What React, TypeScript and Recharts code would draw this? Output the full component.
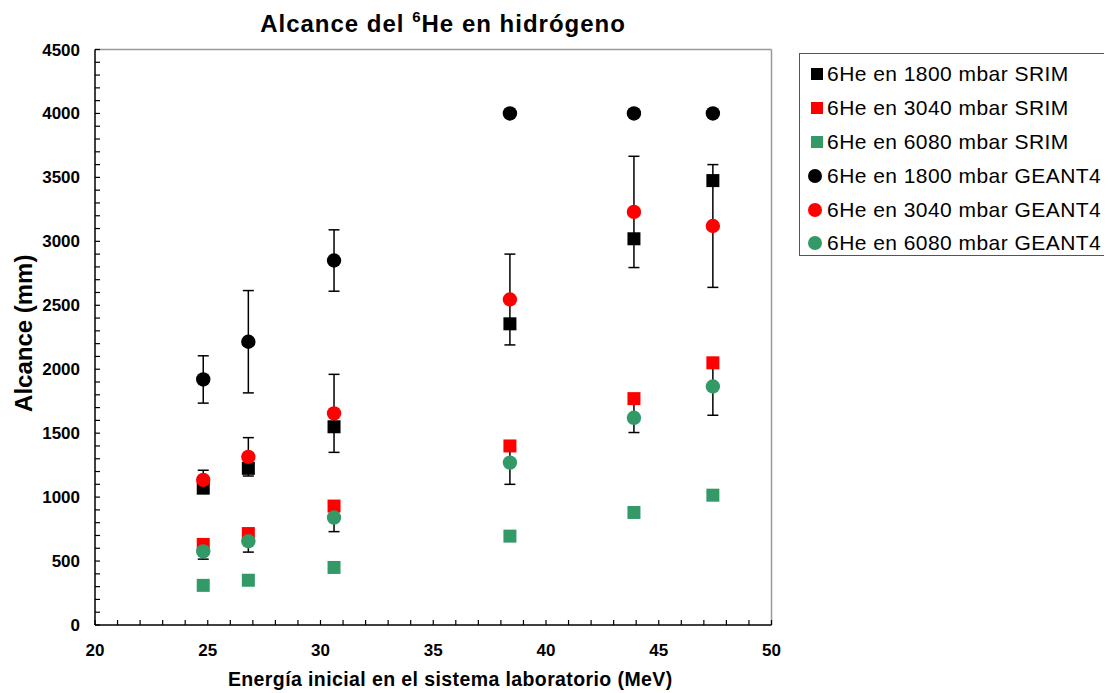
import React from "react";
import {
  ScatterChart,
  Scatter,
  XAxis,
  YAxis,
  ErrorBar,
  ReferenceLine,
  Legend,
  Label,
} from "recharts";

// Energía inicial (MeV) de cada medida
const energies = [24.8, 26.8, 30.6, 38.4, 43.9, 47.4];

// Alcance (mm) calculado con SRIM
const srim1800 = [1070, 1225, 1550, 2355, 3020, 3475];
const srim3040 = [630, 715, 930, 1400, 1770, 2050];
const srim6080 = [310, 350, 450, 695, 880, 1015];

// Alcance (mm) simulado con GEANT4 y su incertidumbre
const geant1800 = [1920, 2215, 2850, 4000, 4000, 4000];
const geant3040 = [1135, 1315, 1655, 2545, 3230, 3120];
const geant6080 = [575, 655, 840, 1270, 1620, 1865];
const geant1800Err = [185, 400, 240, null, null, null];
const geant3040Err = [75, 150, 305, 355, 435, 480];
const geant6080Err = [60, 85, 110, 170, 115, 225];

const xMajorTicks = [20, 25, 30, 35, 40, 45, 50];
const yMajorTicks = [0, 500, 1000, 1500, 2000, 2500, 3000, 3500, 4000, 4500];

const FONT = '"Liberation Sans", Arial, sans-serif';
const BLACK = "#000000";
const RED = "#ff0000";
const GREEN = "#339966";

// minor ticks every 1 MeV / 100 mm, labels only on the majors
const xTicks = Array.from({ length: 31 }, (_, i) => 20 + i);
const yTicks = Array.from({ length: 46 }, (_, i) => i * 100);

type Pt = { x: number; y: number; err?: number | null };

const toPoints = (ys: number[], errs?: (number | null)[]): Pt[] =>
  energies.map((x, i) => ({ x, y: ys[i], err: errs ? errs[i] : undefined }));

const seriesList = [
  { name: "6He en 1800 mbar SRIM", color: BLACK, kind: "square", data: toPoints(srim1800) },
  { name: "6He en 3040 mbar SRIM", color: RED, kind: "square", data: toPoints(srim3040) },
  { name: "6He en 6080 mbar SRIM", color: GREEN, kind: "square", data: toPoints(srim6080) },
  { name: "6He en 1800 mbar GEANT4", color: BLACK, kind: "circle", data: toPoints(geant1800, geant1800Err) },
  { name: "6He en 3040 mbar GEANT4", color: RED, kind: "circle", data: toPoints(geant3040, geant3040Err) },
  { name: "6He en 6080 mbar GEANT4", color: GREEN, kind: "circle", data: toPoints(geant6080, geant6080Err) },
];

// points that carry an uncertainty; their bars go underneath every marker
const errorSets = seriesList
  .filter((s) => s.kind === "circle")
  .map((s) => ({ name: s.name, data: s.data.filter((p) => p.err != null) }));

const makeShape = (kind: string, color: string) => (props: any) => {
  const { cx, cy } = props;
  if (kind === "square") {
    return <rect x={cx - 6.5} y={cy - 6.5} width={13} height={13} fill={color} />;
  }
  return <circle cx={cx} cy={cy} r={7.2} fill={color} />;
};

const emptyShape = () => <g />;

const LegendBox = () => (
  <div
    style={{
      border: "1px solid #555",
      background: "#fff",
      width: 309,
      height: 203,
      boxSizing: "border-box",
      padding: "3px 0 0 0",
      fontFamily: FONT,
      fontSize: 21,
      letterSpacing: 0.45,
      color: "#000",
    }}
  >
    {seriesList.map((s) => (
      <div key={s.name} style={{ display: "flex", alignItems: "center", height: 33.9 }}>
        <div style={{ width: 24, display: "flex", justifyContent: "center", paddingLeft: 3 }}>
          {s.kind === "square" ? (
            <div style={{ width: 12, height: 12, background: s.color, marginLeft: 3 }} />
          ) : (
            <div style={{ width: 14, height: 14, borderRadius: 7, background: s.color }} />
          )}
        </div>
        <span style={{ whiteSpace: "nowrap" }}>{s.name}</span>
      </div>
    ))}
  </div>
);

const tickStyle = { fontSize: 17, fontWeight: 700, fill: "#000", fontFamily: FONT };

export default function App() {
  return (
    <div style={{ position: "relative", width: 1104, height: 685, fontFamily: FONT }}>
      <div
        style={{
          position: "absolute",
          left: 0,
          top: 4,
          width: 870,
          textAlign: "center",
          fontSize: 24,
          lineHeight: "24px",
          fontWeight: 700,
          letterSpacing: 1,
          zIndex: 2,
        }}
      >
        Alcance del <span style={{ fontSize: 15, position: "relative", top: -10 }}>6</span>He en
        hidrógeno
      </div>
      <ScatterChart
        width={1104}
        height={685}
        margin={{ top: 41.5, right: 340.5, bottom: 28, left: 27 }}
      >
        <XAxis
          type="number"
          dataKey="x"
          domain={[20, 50]}
          ticks={xTicks}
          interval={0}
          allowDataOverflow
          height={40}
          tickSize={-5}
          tickMargin={24}
          tick={tickStyle}
          tickFormatter={(v: number) => (xMajorTicks.includes(v) ? String(v) : "")}
          axisLine={{ stroke: "#000", strokeWidth: 1.5 }}
          tickLine={{ stroke: "#000", strokeWidth: 1.2 }}
        >
          <Label
            content={({ viewBox }: any) => (
              <text
                x={viewBox.x + viewBox.width / 2 + 17}
                y={678}
                textAnchor="middle"
                fontFamily={FONT}
                fontSize={19.5}
                fontWeight={700}
                letterSpacing={0.4}
                fill="#000"
              >
                Energía inicial en el sistema laboratorio (MeV)
              </text>
            )}
          />
        </XAxis>
        <YAxis
          type="number"
          dataKey="y"
          domain={[0, 4500]}
          ticks={yTicks}
          interval={0}
          allowDataOverflow
          width={60}
          tickSize={-5}
          tickMargin={20}
          tick={tickStyle}
          tickFormatter={(v: number) => (yMajorTicks.includes(v) ? String(v) : "")}
          axisLine={{ stroke: "#000", strokeWidth: 1.5 }}
          tickLine={{ stroke: "#000", strokeWidth: 1.2 }}
        >
          <Label
            content={({ viewBox }: any) => {
              const cy = viewBox.y + viewBox.height / 2 - 4;
              return (
                <text
                  x={15}
                  y={cy}
                  transform={`rotate(-90 15 ${cy})`}
                  textAnchor="middle"
                  dominantBaseline="central"
                  fontFamily={FONT}
                  fontSize={24}
                  fontWeight={700}
                  fill="#000"
                >
                  Alcance (mm)
                </text>
              );
            }}
          />
        </YAxis>
        <ReferenceLine y={4500} stroke="#999" strokeWidth={1.5} />
        <ReferenceLine x={50} stroke="#999" strokeWidth={1.5} />
        {errorSets.map((e) => (
          <Scatter
            key={`err-${e.name}`}
            data={e.data}
            shape={emptyShape}
            legendType="none"
            isAnimationActive={false}
          >
            <ErrorBar dataKey="err" direction="y" width={5.5} stroke="#000" strokeWidth={1.5} />
          </Scatter>
        ))}
        {seriesList.map((s) => (
          <Scatter
            key={s.name}
            name={s.name}
            data={s.data}
            fill={s.color}
            shape={makeShape(s.kind, s.color)}
            isAnimationActive={false}
          />
        ))}
        <Legend
          layout="vertical"
          align="center"
          verticalAlign="middle"
          wrapperStyle={{ left: 791, top: 45, width: 309, height: 203 }}
          content={() => <LegendBox />}
        />
      </ScatterChart>
    </div>
  );
}
